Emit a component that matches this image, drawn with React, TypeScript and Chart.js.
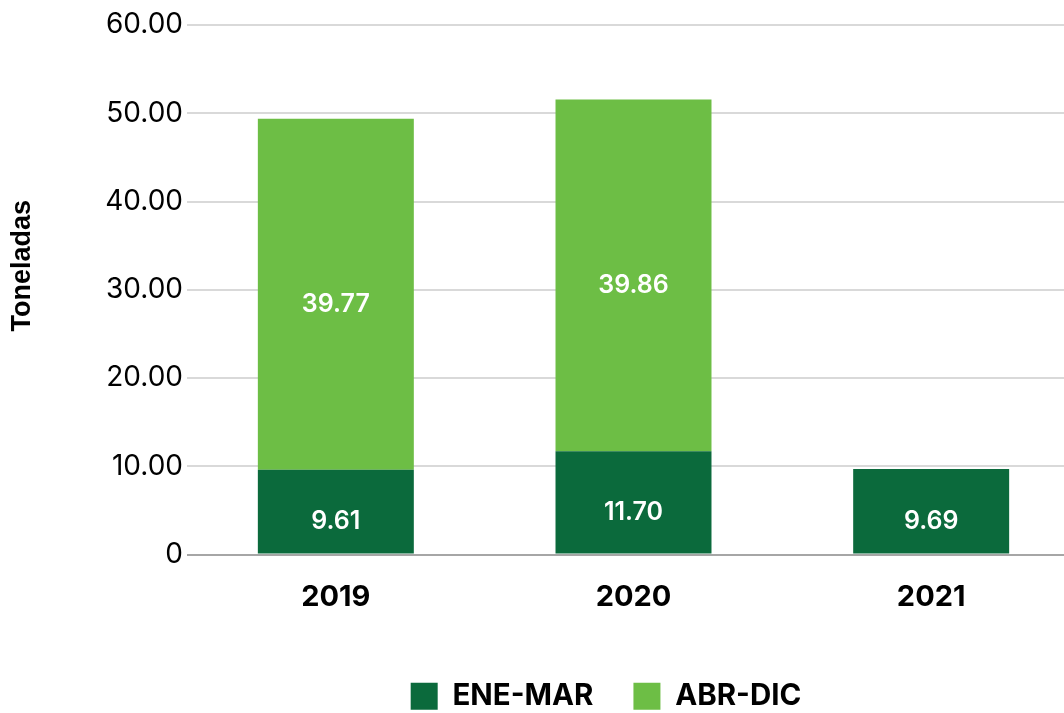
import React, { useEffect, useRef } from "react";
import { Chart, registerables } from "chart.js";

Chart.register(...registerables);

const categories = ["2019", "2020", "2021"];
const eneMar = [9.61, 11.7, 9.69];
const abrDic = [39.77, 39.86, null];
const yTicks = [0, 10, 20, 30, 40, 50, 60];
const seriesNames = ["ENE-MAR", "ABR-DIC"];
const yTitle = "Toneladas";

const DARK = "#0b6a3c";
const LIGHT = "#6dbe45";

const W = 1212;
const H = 721;

const dataLabels = {
  id: "dataLabels",
  afterDatasetsDraw(chart: any) {
    const ctx = chart.ctx;
    ctx.save();
    ctx.fillStyle = "#ffffff";
    ctx.font = "600 25px Inter";
    ctx.textAlign = "center";
    ctx.textBaseline = "middle";
    chart.data.datasets.forEach((ds: any, di: number) => {
      const meta = chart.getDatasetMeta(di);
      meta.data.forEach((el: any, i: number) => {
        const v = ds.data[i];
        if (v === null || v === undefined) return;
        const { x, y, base } = el.getProps(["x", "y", "base"], true);
        ctx.fillText(Number(v).toFixed(2), x, (y + base) / 2 + 10);
      });
    });
    ctx.restore();
  },
};

const axisTitle = {
  id: "axisTitle",
  afterDraw(chart: any) {
    const ctx = chart.ctx;
    const a = chart.chartArea;
    ctx.save();
    ctx.translate(23, (a.top + a.bottom) / 2 - 24);
    ctx.rotate(-Math.PI / 2);
    ctx.fillStyle = "#000000";
    ctx.font = "bold 27px 'Liberation Sans', Arial";
    ctx.textAlign = "center";
    ctx.textBaseline = "middle";
    ctx.fillText(yTitle, 0, 0);
    ctx.restore();
  },
};

export default function App() {
  const ref = useRef<HTMLCanvasElement | null>(null);
  useEffect(() => {
    document.body.style.overflow = "hidden";
    const chart = new Chart(ref.current!, {
      type: "bar",
      data: {
        labels: categories,
        datasets: [
          { label: seriesNames[0], data: eneMar, backgroundColor: DARK, barPercentage: 0.524, categoryPercentage: 1 },
          { label: seriesNames[1], data: abrDic as any, backgroundColor: LIGHT, barPercentage: 0.524, categoryPercentage: 1 },
        ],
      },
      options: {
        animation: false,
        responsive: false,
        layout: { padding: { left: 0, right: 0, top: 25, bottom: 0 } },
        plugins: {
          legend: {
            position: "bottom",
            labels: {
              boxWidth: 27,
              boxHeight: 27,
              padding: 40,
              color: "#000000",
              font: { family: "Inter", size: 29.5, weight: "bold" },
            },
          },
          tooltip: { enabled: false },
        },
        scales: {
          x: {
            stacked: true,
            grid: { display: false, drawTicks: false },
            border: { display: false },
            ticks: { padding: 25, color: "#000000", font: { family: "Inter", size: 29, weight: "bold" } },
            afterFit: (s: any) => { s.height = 87; },
          },
          y: {
            stacked: true,
            min: 0,
            max: 60,
            afterBuildTicks: (s: any) => { s.ticks = yTicks.map((v) => ({ value: v })); },
            grid: {
              drawTicks: false,
              lineWidth: 2,
              color: (c: any) => (c.tick && c.tick.value === 0 ? "#a6a6a6" : "#d9d9d9"),
            },
            border: { display: false },
            ticks: {
              padding: 4,
              color: "#000000",
              font: { family: "Inter", size: 28 },
              callback: (v: any) => (Number(v) === 0 ? "0" : Number(v).toFixed(2)),
            },
            afterFit: (s: any) => { s.width = 187; },
          },
          yRight: {
            type: "linear",
            position: "right",
            display: true,
            grid: { display: false, drawTicks: false },
            border: { display: false },
            ticks: { display: false },
            afterFit: (s: any) => { s.width = 132; },
          },
        },
      },
      plugins: [dataLabels, axisTitle],
    });
    return () => chart.destroy();
  }, []);
  return (
    <div style={{ position: "fixed", left: 0, top: 0, width: W, height: H }}>
      <canvas ref={ref} width={W} height={H} style={{ width: W, height: H }} />
    </div>
  );
}
